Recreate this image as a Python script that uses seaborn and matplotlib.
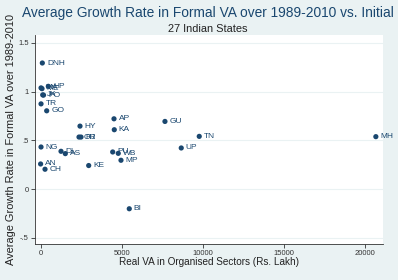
import pandas as pd
import matplotlib.pyplot as plt
import seaborn as sns

# state codes, initial real VA (Rs. Lakh) and average growth rate
states = ["DNH", "MA", "ME", "HP", "JK", "PO", "TR", "GO", "AP", "HY",
          "KA", "OR", "RJ", "GU", "TN", "MH", "UP", "NG", "DL", "AS",
          "PU", "WB", "MP", "AN", "CH", "KE", "BI"]
real_va = [111, 31, 92, 480, 135, 185, 31, 380, 4528, 2433,
           4546, 2372, 2495, 7669, 9782, 20667, 8673, 31, 1263, 1528,
           4448, 4792, 4959, 5, 277, 2969, 5470]
growth = [1.293, 1.038, 1.03, 1.054, 0.966, 0.964, 0.874, 0.803, 0.721, 0.646,
          0.609, 0.534, 0.534, 0.694, 0.541, 0.538, 0.422, 0.432, 0.388, 0.364,
          0.381, 0.367, 0.296, 0.258, 0.204, 0.242, -0.201]

df = pd.DataFrame({"state": states, "va": real_va, "growth": growth})

navy = "#1A476F"
bg = "#EAF2F3"

sns.set_style("white")
plt.rcParams['font.family'] = ['Liberation Sans', 'DejaVu Sans']

fig = plt.figure(figsize=(3.98, 2.80), dpi=100, facecolor=bg)
ax = fig.add_axes([0.088, 0.129, 0.874, 0.746])
ax.set_facecolor("white")

sns.scatterplot(data=df, x="va", y="growth", ax=ax, color=navy, s=14,
                edgecolor="none", zorder=3)
for _, r in df.iterrows():
    ax.annotate(r["state"], (r["va"], r["growth"]), xytext=(3.3, 0),
                textcoords="offset points", va="center", ha="left",
                fontsize=6.0, color=navy)

ax.set_xlim(-339, 21100)
ax.set_ylim(-0.561, 1.58)
ax.set_xticks([0, 5000, 10000, 15000, 20000])
ax.set_xticklabels(["0", "5000", "10000", "15000", "20000"])
ax.set_yticks([-0.5, 0, 0.5, 1, 1.5])
ax.set_yticklabels(["-.5", "0", ".5", "1", "1.5"])
ax.tick_params(axis="both", labelsize=5.5, colors="#333333", length=3,
               width=0.6, direction="out", bottom=True, left=True, pad=1.5)
ax.grid(axis="y", color=bg, linewidth=0.8)
ax.set_axisbelow(True)
for side in ["top", "right"]:
    ax.spines[side].set_visible(False)
for side in ["left", "bottom"]:
    ax.spines[side].set_color("#333333")
    ax.spines[side].set_linewidth(0.6)

ax.set_xlabel("Real VA in Organised Sectors (Rs. Lakh)", fontsize=7.2,
              color="#222222", labelpad=0)
ax.set_ylabel("Average Growth Rate in Formal VA over 1989-2010", fontsize=7.9,
              color="#222222", labelpad=1.5)

fig.text(22 / 398, 1 - 13 / 280, "Average Growth Rate in Formal VA over 1989-2010 vs. Initial",
         fontsize=9.9, color=navy, ha="left", va="center")
fig.text(208 / 398, 1 - 29 / 280, "27 Indian States", fontsize=7.9,
         color="#222222", ha="center", va="center")

fig.savefig("out.png", dpi=100, facecolor=bg)
